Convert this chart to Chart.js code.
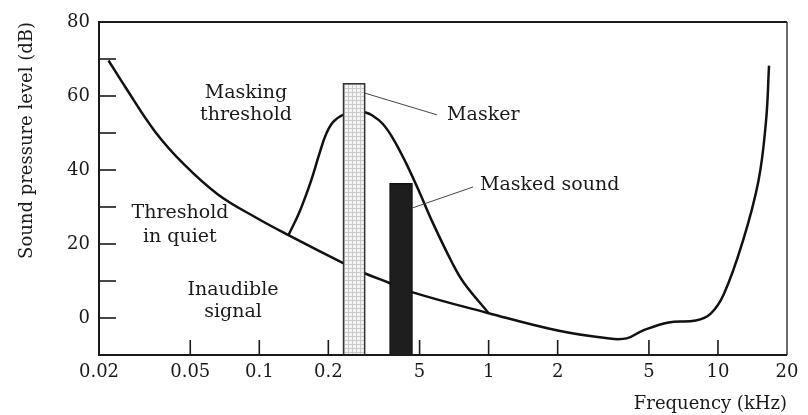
<!DOCTYPE html>
<html>
<head>
<meta charset="utf-8">
<script src="https://cdn.jsdelivr.net/npm/chart.js@4.4.1/dist/chart.umd.min.js"></script>
<style>
  html, body { margin: 0; padding: 0; background: #fff; }
  #wrap { width: 808px; height: 415px; }
</style>
</head>
<body>
<div id="wrap"><canvas id="maskingChart"></canvas></div>
<script>
// frequency axis (kHz), log scale
const xTickValues = [0.02, 0.05, 0.1, 0.2, 0.5, 1, 2, 5, 10, 20];
const xTickLabels = ["0.02", "0.05", "0.1", "0.2", "5", "1", "2", "5", "10", "20"];

// threshold in quiet
const quietFreq  = [0.022, 0.026, 0.035, 0.047, 0.066, 0.097, 0.134, 0.231, 0.288, 0.372, 0.463, 1.0, 2.0, 3.3, 4.0, 4.7, 6.1, 8.0, 9.3, 10.6, 12.8, 15.0, 16.2, 16.7];
const quietLevel = [69.6, 62.5, 50.5, 41.5, 33.4, 27.1, 22.4, 14.9, 12.1, 9.4, 7.0, 1.3, -3.4, -5.5, -5.5, -3.4, -1.2, -0.7, 1.2, 6.4, 20.5, 36.9, 53.2, 68.2];

// masking threshold
const maskFreq  = [0.134, 0.150, 0.168, 0.182, 0.195, 0.21, 0.233, 0.26, 0.288, 0.31, 0.345, 0.383, 0.437, 0.495, 0.573, 0.695, 0.778, 1.0];
const maskLevel = [22.4, 28.8, 37.0, 44.0, 49.5, 53.0, 55.0, 55.9, 55.6, 54.8, 52.5, 48.5, 41.8, 34.5, 25.5, 14.8, 9.6, 1.3];

// masker and masked tone bands
const maskerFreq = [0.233, 0.288];
const maskerLevel = 63.3;
const maskedFreq = [0.372, 0.463];
const maskedLevel = 36.3;
const floorLevel = -10;

const toPoints = (xs, ys) => xs.map((x, i) => ({ x: x, y: ys[i] }));
const band = (f, top) => [
  { x: f[0], y: floorLevel }, { x: f[0], y: top },
  { x: f[1], y: top }, { x: f[1], y: floorLevel }
];

function stipple() {
  const c = document.createElement("canvas");
  c.width = 4; c.height = 4;
  const g = c.getContext("2d");
  g.fillStyle = "#f4f4f4";
  g.fillRect(0, 0, 4, 4);
  g.fillStyle = "#cacaca";
  g.fillRect(0, 0, 4, 1);
  g.fillRect(0, 0, 1, 4);
  return g.createPattern(c, "repeat");
}

// text notes, placed in data units (kHz, dB)
const notes = [
  { text: "Masking", x: 0.0875, y: 60.8, align: "center" },
  { text: "threshold", x: 0.0875, y: 54.9, align: "center" },
  { text: "Threshold", x: 0.0451, y: 28.4, align: "center" },
  { text: "in quiet", x: 0.045, y: 21.9, align: "center" },
  { text: "Inaudible", x: 0.0768, y: 7.6, align: "center" },
  { text: "signal", x: 0.0768, y: 1.6, align: "center" },
  { text: "Masker", x: 0.659, y: 54.9, align: "left" },
  { text: "Masked sound", x: 0.917, y: 35.9, align: "left" }
];
const leaders = [
  [{ x: 0.288, y: 60.8 }, { x: 0.596, y: 54.9 }],
  [{ x: 0.463, y: 29.7 }, { x: 0.855, y: 35.4 }]
];

const ink = "#1a1a1a";
const serif = "'DejaVu Serif', 'Liberation Serif', serif";

const frameAndNotes = {
  id: "frameAndNotes",
  afterDatasetsDraw(chart) {
    const { ctx, chartArea: a, scales: { x, y } } = chart;
    const seg = (x1, y1, x2, y2) => {
      ctx.beginPath(); ctx.moveTo(x1, y1); ctx.lineTo(x2, y2); ctx.stroke();
    };
    ctx.save();
    ctx.strokeStyle = ink;

    // tick marks drawn inside the box
    ctx.lineWidth = 1.6;
    y.ticks.forEach(t => {
      if (t.value > y.min && t.value < y.max) {
        const py = y.getPixelForValue(t.value);
        seg(a.left, py, a.left + 17, py);
      }
    });
    x.ticks.forEach(t => {
      if (t.value > x.min && t.value < x.max) {
        const px = x.getPixelForValue(t.value);
        seg(px, a.bottom, px, a.bottom - 15);
      }
    });

    // box
    ctx.lineWidth = 2;
    seg(a.left, a.top, a.left, a.bottom + 1);
    seg(a.left - 1, a.bottom, a.right, a.bottom);
    seg(a.left - 1, a.top, a.right, a.top);
    ctx.lineWidth = 1.3;
    seg(a.right, a.top, a.right, a.bottom);

    // leader lines
    ctx.lineWidth = 1;
    ctx.strokeStyle = "#444";
    leaders.forEach(([p, q]) => {
      seg(x.getPixelForValue(p.x), y.getPixelForValue(p.y),
          x.getPixelForValue(q.x), y.getPixelForValue(q.y));
    });

    // notes
    ctx.fillStyle = ink;
    ctx.font = "19px " + serif;
    ctx.textBaseline = "middle";
    notes.forEach(n => {
      ctx.textAlign = n.align;
      ctx.fillText(n.text, x.getPixelForValue(n.x), y.getPixelForValue(n.y));
    });
    ctx.restore();
  }
};

const curveStyle = {
  showLine: true,
  pointRadius: 0,
  borderColor: "#111",
  borderWidth: 2.5,
  tension: 0.4,
  fill: false,
  order: 2
};

new Chart(document.getElementById("maskingChart"), {
  type: "scatter",
  data: {
    datasets: [
      Object.assign({ label: "Threshold in quiet", data: toPoints(quietFreq, quietLevel) }, curveStyle),
      Object.assign({ label: "Masking threshold", data: toPoints(maskFreq, maskLevel) }, curveStyle),
      {
        label: "Masker",
        data: band(maskerFreq, maskerLevel),
        showLine: true, pointRadius: 0, tension: 0,
        borderColor: "#333", borderWidth: 1.5,
        backgroundColor: stipple(),
        fill: { value: floorLevel },
        order: 0
      },
      {
        label: "Masked sound",
        data: band(maskedFreq, maskedLevel),
        showLine: true, pointRadius: 0, tension: 0,
        borderColor: "#111", borderWidth: 1.5,
        backgroundColor: "#1e1e1e",
        fill: { value: floorLevel },
        order: 0
      }
    ]
  },
  options: {
    responsive: true,
    maintainAspectRatio: false,
    animation: false,
    layout: { padding: { top: 22, right: 21, left: 0, bottom: 0 } },
    plugins: {
      legend: { display: false },
      tooltip: { enabled: false }
    },
    scales: {
      x: {
        type: "logarithmic",
        min: 0.02,
        max: 20,
        afterBuildTicks: scale => {
          scale.ticks = xTickValues.map(v => ({ value: v }));
        },
        afterFit: scale => { scale.height = 60; },
        grid: { display: false, drawTicks: false },
        border: { display: false },
        ticks: {
          autoSkip: false,
          maxRotation: 0,
          padding: 7,
          color: ink,
          font: { family: serif, size: 18 },
          callback: (value, index) => xTickLabels[index]
        },
        title: {
          display: true,
          text: "Frequency (kHz)",
          align: "end",
          color: ink,
          font: { family: serif, size: 18 },
          padding: { top: 0, bottom: 0 }
        }
      },
      y: {
        min: -10,
        max: 80,
        afterFit: scale => { scale.width = 99; },
        grid: { display: false, drawTicks: false },
        border: { display: false },
        ticks: {
          stepSize: 10,
          padding: 9,
          color: ink,
          font: { family: serif, size: 18 },
          callback: v => (v % 20 === 0 ? v : "")
        },
        title: {
          display: true,
          text: "Sound pressure level (dB)",
          align: "end",
          color: ink,
          font: { family: serif, size: 18 },
          padding: { top: 17, bottom: 0 }
        }
      }
    }
  },
  plugins: [frameAndNotes]
});
</script>
</body>
</html>
